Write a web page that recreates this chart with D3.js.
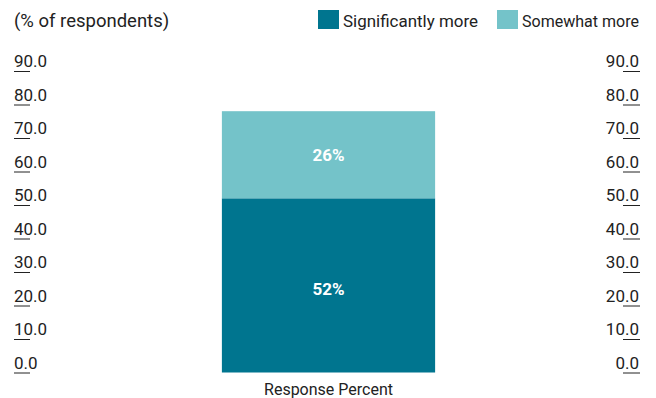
<!DOCTYPE html>
<html lang="en">
<head>
<meta charset="utf-8">
<title>Response Percent</title>
<script src="https://cdn.jsdelivr.net/npm/d3@7"></script>
<style>
  body { margin: 0; background: #fff; }
  text { font-family: Roboto, "Noto Sans", sans-serif; fill: #222; }
</style>
</head>
<body>
<script>
// data
var categories = ["Response Percent"];
var seriesNames = ["Significantly more", "Somewhat more"];
var significantlyMore = [52];
var somewhatMore = [26];
var tickValues = [0, 10, 20, 30, 40, 50, 60, 70, 80, 90];

var w = 656, h = 398;
var colors = ["#00758f", "#74c3c9"];

var rows = categories.map(function(c, i) {
  return { cat: c, "Significantly more": significantlyMore[i], "Somewhat more": somewhatMore[i] };
});
var stacked = d3.stack().keys(seriesNames)(rows);

var svg = d3.select("body").append("svg")
  .attr("width", w)
  .attr("height", h);

var y = d3.scaleLinear().domain([0, 90]).range([372.5, 71]);
var x = d3.scaleBand().domain(categories).range([46, 611]).padding(0.452);

// subtitle
svg.append("text")
  .attr("x", 14)
  .attr("y", 27)
  .style("font-size", "18.5px")
  .text("(% of respondents)");

// legend
var legend = svg.append("g").attr("transform", "translate(318,10)");
var lx = [0, 179];
var lw = [135, 117];
seriesNames.forEach(function(name, i) {
  var g = legend.append("g").attr("transform", "translate(" + lx[i] + ",0)");
  g.append("rect").attr("width", 21).attr("height", 19).attr("fill", colors[i]);
  g.append("text").attr("x", 25).attr("y", 16.5)
    .attr("textLength", lw[i]).attr("lengthAdjust", "spacingAndGlyphs")
    .style("font-size", "17px").text(name);
});

// left axis: labels sit above short tick lines
var left = svg.append("g")
  .attr("transform", "translate(14,0)")
  .call(d3.axisRight(y).tickValues(tickValues).tickSize(16).tickFormat(d3.format(".1f")));
left.select(".domain").remove();
left.selectAll(".tick line").attr("stroke", "#222");
left.selectAll(".tick text")
  .attr("x", 0).attr("dy", "-0.26em")
  .attr("text-anchor", "start")
  .style("font-size", "17px").attr("fill", "#222");

var right = svg.append("g")
  .attr("transform", "translate(640,0)")
  .call(d3.axisLeft(y).tickValues(tickValues).tickSize(17).tickFormat(d3.format(".1f")));
right.select(".domain").remove();
right.selectAll(".tick line").attr("stroke", "#222");
right.selectAll(".tick text")
  .attr("x", -1).attr("dy", "-0.26em")
  .attr("text-anchor", "end")
  .style("font-size", "17px").attr("fill", "#222");

// bars
var layers = svg.selectAll("g.layer")
  .data(stacked)
  .enter().append("g")
  .attr("class", "layer")
  .attr("fill", function(d, i) { return colors[i]; });

layers.selectAll("rect")
  .data(function(d) { return d; })
  .enter().append("rect")
  .attr("x", function(d) { return x(d.data.cat); })
  .attr("width", x.bandwidth())
  .attr("y", function(d) { return y(d[1]); })
  .attr("height", function(d) { return y(d[0]) - y(d[1]); });

layers.selectAll("text.val")
  .data(function(d) { return d; })
  .enter().append("text")
  .attr("class", "val")
  .attr("x", function(d) { return x(d.data.cat) + x.bandwidth() / 2; })
  .attr("y", function(d) { return (y(d[0]) + y(d[1])) / 2; })
  .attr("dy", function(d, i, n) { return d[0] === 0 ? "0.55em" : "0.35em"; })
  .attr("text-anchor", "middle")
  .style("font-size", "17px")
  .style("font-weight", "bold")
  .style("fill", "#fff")
  .text(function(d) { return (d[1] - d[0]) + "%"; });

// category axis
var bottom = svg.append("g")
  .attr("transform", "translate(0,373)")
  .call(d3.axisBottom(x).tickSize(0).tickPadding(11));
bottom.select(".domain").remove();
bottom.selectAll(".tick text").style("font-size", "16px").attr("fill", "#222");
</script>
</body>
</html>
